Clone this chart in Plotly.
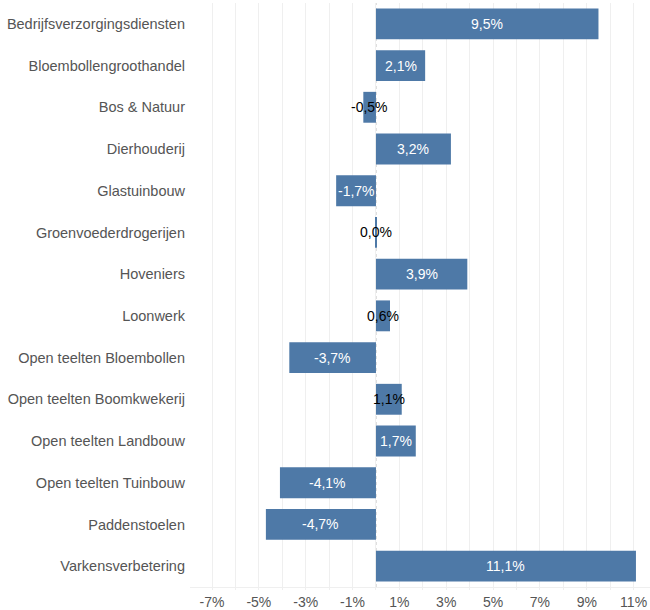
import plotly.graph_objects as go

categories = ["Bedrijfsverzorgingsdiensten", "Bloembollengroothandel", "Bos & Natuur",
              "Dierhouderij", "Glastuinbouw", "Groenvoederdrogerijen", "Hoveniers",
              "Loonwerk", "Open teelten Bloembollen", "Open teelten Boomkwekerij",
              "Open teelten Landbouw", "Open teelten Tuinbouw", "Paddenstoelen",
              "Varkensverbetering"]
values = [9.5, 2.1, -0.54, 3.2, -1.7, 0.04, 3.9, 0.6, -3.7, 1.1, 1.7, -4.1, -4.7, 11.1]
tick_vals = [-7, -5, -3, -1, 1, 3, 5, 7, 9, 11]
tick_text = ["-7%", "-5%", "-3%", "-1%", "1%", "3%", "5%", "7%", "9%", "11%"]

def fmt(v):
    return f"{v:.1f}".replace(".", ",") + "%"

FONT = "Liberation Sans, Arial"

fig = go.Figure()
fig.add_trace(go.Bar(
    y=categories, x=values, orientation="h",
    marker=dict(color="#4e79a7", line=dict(width=0)),
    hoverinfo="skip",
))

for c, v in zip(categories, values):
    color = "white" if abs(v) >= 1.5 else "black"
    fig.add_annotation(x=v / 2, y=c, text=fmt(v), showarrow=False,
                       font=dict(color=color, size=14, family=FONT),
                       xanchor="center", yanchor="middle")

fig.add_shape(type="line", xref="x", yref="paper", x0=0, x1=0, y0=0, y1=1,
              line=dict(color="#bbbbbb", width=1, dash="dot"), layer="below")

fig.update_layout(
    width=650, height=610,
    margin=dict(l=190, r=0, t=3, b=23),
    plot_bgcolor="white", paper_bgcolor="white",
    bargap=0.26,
    showlegend=False,
    font=dict(family=FONT, size=14, color="#555555"),
    xaxis=dict(
        range=[-7.94, 11.7],
        tickvals=tick_vals, ticktext=tick_text,
        showgrid=True, gridcolor="#efefef", gridwidth=1,
        zeroline=False,
        ticks="outside", ticklen=2, tickcolor="#efefef",
        minor=dict(dtick=1, tick0=0, showgrid=True, gridcolor="#efefef",
                   ticks="outside", ticklen=2, tickcolor="#efefef"),
        showline=True, linecolor="#efefef", linewidth=1,
        tickfont=dict(size=14, color="#555555"),
        automargin=False,
        fixedrange=True,
    ),
    yaxis=dict(
        autorange="reversed",
        showgrid=False, zeroline=False,
        ticks="", ticklabelstandoff=4,
        tickfont=dict(size=14.5, color="#555555"),
        automargin=False,
        fixedrange=True,
    ),
)

fig.write_html("out.html", config={"displayModeBar": False},
               post_script="document.body.style.margin='0';")
